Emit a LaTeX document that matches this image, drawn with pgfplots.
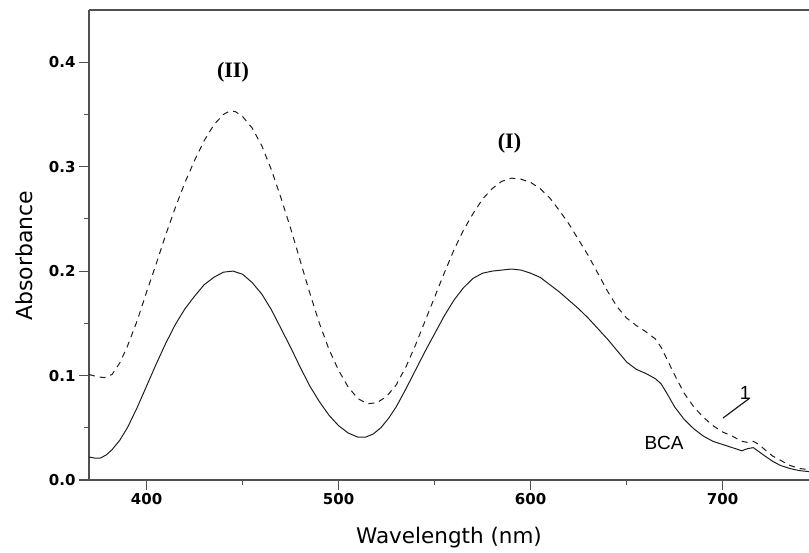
\documentclass[border=0pt]{standalone}
\usepackage{fontspec}
\setmainfont{DejaVu Sans}
\newfontfamily\romfont{Liberation Serif}
\newfontfamily\arialfont{Liberation Sans}
\usepackage{pgfplots}
\pgfplotsset{compat=1.18}
\definecolor{axgray}{HTML}{505050}
\definecolor{curve}{HTML}{1E1E1E}
\begin{document}
\begin{tikzpicture}
\begin{axis}[
  scale only axis, width=720pt, height=470pt,
  at={(0pt,0pt)}, anchor=south west,
  xmin=370, xmax=745, ymin=0, ymax=0.45,
  axis x line=bottom, axis y line=left,
  axis line style={-, axgray, line width=1.4pt},
  xtick={400,500,600,700}, minor xtick={450,550,650},
  ytick={0,0.1,0.2,0.3,0.4}, minor ytick={0.05,0.15,0.25,0.35},
  tick align=outside, major tick length=10pt, minor tick length=5pt,
  every tick/.style={axgray, line width=1.2pt},
  /pgf/number format/assume math mode=true,
  ticklabel style={font=\fontsize{15}{15}\selectfont\bfseries, text=black},
  yticklabel style={/pgf/number format/fixed, /pgf/number format/precision=1, /pgf/number format/fixed zerofill},
  xticklabel style={/pgf/number format/1000 sep={}},
  xlabel={Wavelength (nm)}, ylabel={Absorbance},
  xlabel style={font=\fontsize{21.5}{21.5}\selectfont, at={(axis description cs:0.5,0)}, anchor=center, yshift=-58pt},
  ylabel style={font=\fontsize{22}{22}\selectfont, at={([xshift=-65pt]axis description cs:0,0.477)}, anchor=center},
  clip=false,
]
\addplot[curve, line width=1pt, dash pattern=on 6pt off 5pt] coordinates {
(370,0.101) (374,0.099) (378,0.098) (382,0.101) (386,0.112) (390,0.128) (395,0.152) (400,0.180) (405,0.207) (410,0.235) (415,0.261) (420,0.285) (425,0.306) (430,0.325) (435,0.340) (440,0.350) (443,0.353) (446,0.353) (450,0.348) (455,0.337) (460,0.320) (465,0.297) (470,0.270) (475,0.241) (480,0.210) (485,0.179) (490,0.150) (495,0.125) (500,0.105) (505,0.089) (510,0.078) (515,0.073) (520,0.074) (525,0.080) (530,0.091) (535,0.108) (540,0.129) (545,0.152) (550,0.175) (555,0.198) (560,0.220) (565,0.239) (570,0.255) (575,0.269) (580,0.279) (585,0.286) (590,0.289) (595,0.288) (600,0.285) (605,0.279) (610,0.270) (615,0.258) (620,0.245) (625,0.230) (630,0.215) (635,0.198) (640,0.181) (645,0.166) (650,0.155) (655,0.148) (660,0.142) (665,0.135) (668,0.127) (672,0.112) (676,0.097) (680,0.083) (685,0.070) (690,0.060) (695,0.052) (700,0.046) (705,0.042) (710,0.037) (713,0.036) (716,0.037) (719,0.034) (722,0.029) (726,0.023) (730,0.019) (735,0.014) (740,0.011) (745,0.010)
};
\addplot[curve, line width=1pt] coordinates {
(370,0.022) (373,0.021) (376,0.021) (379,0.024) (382,0.029) (386,0.038) (390,0.050) (395,0.069) (400,0.090) (405,0.111) (410,0.131) (415,0.149) (420,0.164) (425,0.176) (430,0.187) (435,0.194) (440,0.199) (445,0.200) (450,0.197) (455,0.189) (460,0.178) (465,0.163) (470,0.145) (475,0.127) (480,0.108) (485,0.090) (490,0.075) (495,0.062) (500,0.052) (505,0.045) (510,0.041) (514,0.041) (518,0.044) (522,0.050) (526,0.059) (530,0.070) (535,0.087) (540,0.105) (545,0.123) (550,0.140) (555,0.157) (560,0.172) (565,0.184) (570,0.193) (575,0.198) (580,0.200) (585,0.201) (590,0.202) (595,0.201) (600,0.198) (605,0.194) (610,0.187) (615,0.180) (620,0.172) (625,0.164) (630,0.155) (635,0.145) (640,0.135) (645,0.124) (650,0.113) (655,0.106) (660,0.102) (665,0.097) (668,0.092) (671,0.083) (675,0.070) (680,0.058) (685,0.049) (690,0.042) (695,0.037) (700,0.034) (705,0.031) (710,0.028) (713,0.030) (716,0.031) (719,0.027) (722,0.023) (726,0.018) (730,0.014) (735,0.011) (740,0.009) (745,0.008)
};
\draw[axgray, line width=1.4pt] (rel axis cs:0,1) -- (rel axis cs:1,1);
\node[font=\romfont\bfseries\fontsize{22}{22}\selectfont] at (axis cs:445,0.390) {(II)};
\node[font=\romfont\bfseries\fontsize{22}{22}\selectfont] at (axis cs:589,0.3225) {(I)};
\node[font=\arialfont\fontsize{19}{19}\selectfont] at (axis cs:711.7,0.0833) {1};
\node[font=\arialfont\fontsize{19}{19}\selectfont] at (axis cs:669.5,0.0354) {BCA};
\draw[curve, line width=1.2pt] (axis cs:700.2,0.0593) -- (axis cs:714.2,0.0785);
\end{axis}
\pgfresetboundingbox
\path[use as bounding box] (-89pt,-73pt) rectangle (720pt,480pt);
\end{tikzpicture}
\end{document}
